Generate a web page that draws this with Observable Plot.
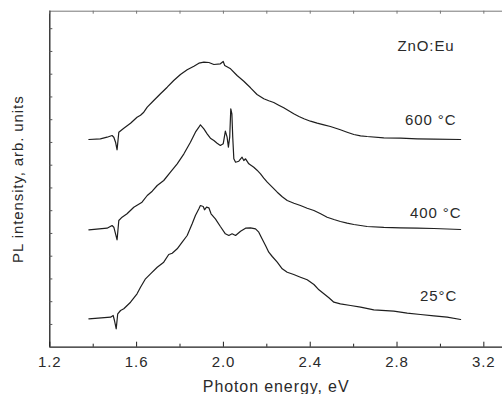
<!DOCTYPE html>
<html><head><meta charset="utf-8">
<script src="https://cdn.jsdelivr.net/npm/d3@7"></script>
<script src="https://cdn.jsdelivr.net/npm/@observablehq/plot@0.6"></script>
<style>
body{margin:0;background:#fff}
svg text{letter-spacing:0.9px}
</style>
</head><body><div id="chart"></div>
<script>
// Photon energy (eV) and PL intensity (arb. units) for each anneal temperature
const energy25 = [1.380,1.480,1.492,1.498,1.506,1.513,1.526,1.541,1.572,1.602,1.618,1.641,1.664,1.695,1.725,1.748,1.764,1.787,1.810,1.833,1.856,1.871,1.887,1.894,1.907,1.913,1.922,1.933,1.943,1.963,1.986,2.009,2.025,2.040,2.056,2.079,2.102,2.125,2.148,2.163,2.178,2.194,2.209,2.225,2.248,2.271,2.294,2.324,2.355,2.386,2.417,2.440,2.463,2.486,2.509,2.539,2.586,2.632,2.693,2.785,2.847,2.908,2.970,3.031,3.093];
const pl25 = [28.4,30.0,31.7,26.7,18.4,33.4,36.7,38.4,45.0,53.4,60.0,68.4,73.4,80.0,85.0,92.7,94.0,98.4,105.0,111.7,123.4,131.7,138.4,141.7,140.7,137.4,140.0,139.4,133.4,128.4,120.7,113.4,111.7,113.4,111.7,116.0,119.0,119.4,118.4,115.0,108.4,101.7,95.0,90.7,85.0,78.4,75.0,72.7,70.0,67.4,62.7,57.4,53.4,49.4,45.0,43.4,41.7,40.0,37.4,36.0,34.0,32.7,31.4,30.0,27.7];

const energy400 = [1.380,1.464,1.487,1.495,1.503,1.510,1.518,1.533,1.556,1.587,1.625,1.649,1.672,1.695,1.725,1.756,1.787,1.818,1.848,1.871,1.887,1.894,1.910,1.925,1.940,1.956,1.971,1.986,1.999,2.009,2.017,2.023,2.029,2.034,2.039,2.043,2.048,2.056,2.071,2.086,2.094,2.102,2.117,2.140,2.155,2.171,2.186,2.202,2.225,2.248,2.271,2.294,2.325,2.355,2.386,2.417,2.448,2.478,2.509,2.539,2.570,2.601,2.632,2.662,2.739,2.816,2.893,2.970,3.093];
const pl400 = [117.4,119.0,121.7,120.0,113.4,107.4,126.7,130.0,133.4,140.0,145.0,151.7,156.0,161.7,166.7,175.0,183.4,193.4,205.0,215.0,220.0,222.4,218.4,213.4,209.0,206.7,204.0,201.7,203.4,216.0,210.0,200.0,210.0,238.4,233.4,210.0,188.4,185.0,186.0,190.0,186.7,188.4,183.4,180.0,177.0,173.4,169.0,165.0,160.0,155.0,150.4,146.7,144.0,141.7,139.0,136.7,133.4,130.0,127.7,125.7,124.0,122.7,121.7,120.7,119.8,119.4,119.0,118.7,117.7];

const energy600 = [1.380,1.433,1.464,1.487,1.495,1.503,1.510,1.518,1.541,1.572,1.602,1.618,1.633,1.649,1.679,1.710,1.741,1.771,1.802,1.833,1.864,1.887,1.910,1.933,1.956,1.986,1.999,2.006,2.033,2.063,2.094,2.125,2.155,2.186,2.209,2.232,2.255,2.278,2.301,2.324,2.348,2.371,2.401,2.432,2.463,2.493,2.539,2.570,2.601,2.632,2.662,2.739,2.816,2.893,2.970,3.093];
const pl600 = [207.7,208.4,210.0,211.7,210.0,205.0,197.4,215.0,219.0,224.0,230.0,232.0,235.0,240.0,246.7,253.4,260.0,266.7,272.7,277.4,281.0,284.0,285.0,284.7,282.7,283.4,285.7,281.7,278.4,271.7,266.0,259.4,252.7,248.4,246.4,244.7,242.0,239.4,236.4,233.4,230.7,228.4,226.0,224.0,222.4,220.7,217.4,215.0,212.7,211.4,210.7,209.4,209.0,208.4,208.0,207.7];

// Axis ticks
const xMajorTicks = [1.2,1.6,2.0,2.4,2.8,3.2];
const xMinorTicks = [1.4,1.8,2.2,2.6,3.0];
const yTicks = [22.75,45.5,68.25,91,113.75,136.5,159.25,182,204.75,227.5,250.25,273,295.75,318.5];

// Annotations
const labelText = ["ZnO:Eu","600 °C","400 °C","25°C"];
const labelEnergy = [3.065,3.074,3.097,3.077];
const labelPL = [301.2,226.7,134.3,51.4];

const xDomain = [1.2, 3.286];
const yDomain = [0, 336];

const series = [
  ...energy25.map((x,i)=>({x, y: pl25[i], s: "25"})),
  ...energy400.map((x,i)=>({x, y: pl400[i], s: "400"})),
  ...energy600.map((x,i)=>({x, y: pl600[i], s: "600"}))
];
const labels = labelText.map((t,i)=>({t, x: labelEnergy[i], y: labelPL[i]}));

const ink = "#1e1e1e";
const chart = Plot.plot({
  width: 502, height: 394,
  marginLeft: 49.3, marginRight: 0, marginTop: 10.7, marginBottom: 47.3,
  x: {domain: xDomain},
  y: {domain: yDomain},
  style: {fontFamily: "'Liberation Sans', Arial, sans-serif", fontSize: "15px", color: "#2a2a2a", background: "#fff"},
  marks: [
    Plot.axisX({ticks: xMajorTicks, tickSize: 0, tickPadding: 9, tickFormat: d3.format(".1f"), label: null}),
    Plot.axisX({ticks: [], tickSize: 0, fontSize: 16,
      label: "Photon energy, eV", labelAnchor: "center", labelOffset: 45, labelArrow: "none"}),
    Plot.axisY({ticks: [], tickSize: 0, label: "PL intensity, arb. units", labelAnchor: "center", labelOffset: 37.6, labelArrow: "none"}),
    // frame
    Plot.ruleY([yDomain[1]], {stroke: "#777", strokeWidth: 1}),
    Plot.ruleY([yDomain[0]], {stroke: ink, strokeWidth: 1.3}),
    Plot.ruleX([xDomain[0]], {stroke: ink, strokeWidth: 1.3}),
    // inward ticks
    Plot.ruleX(xMajorTicks, {y1: 0, y2: 5, stroke: ink}),
    Plot.ruleX(xMinorTicks, {y1: 0, y2: 3, stroke: ink}),
    Plot.ruleX(xMajorTicks.concat(xMinorTicks), {y1: 336, y2: 333, stroke: "#777"}),
    Plot.ruleY(yTicks, {x1: 1.2, x2: 1.214, stroke: "#555"}),
    // spectra
    Plot.line(series, {x: "x", y: "y", z: "s", stroke: ink, strokeWidth: 1.2}),
    Plot.text(labels, {x: "x", y: "y", text: "t", textAnchor: "end", lineAnchor: "middle", fill: "#2a2a2a"})
  ]
});
document.getElementById("chart").appendChild(chart);
</script>
</body></html>
